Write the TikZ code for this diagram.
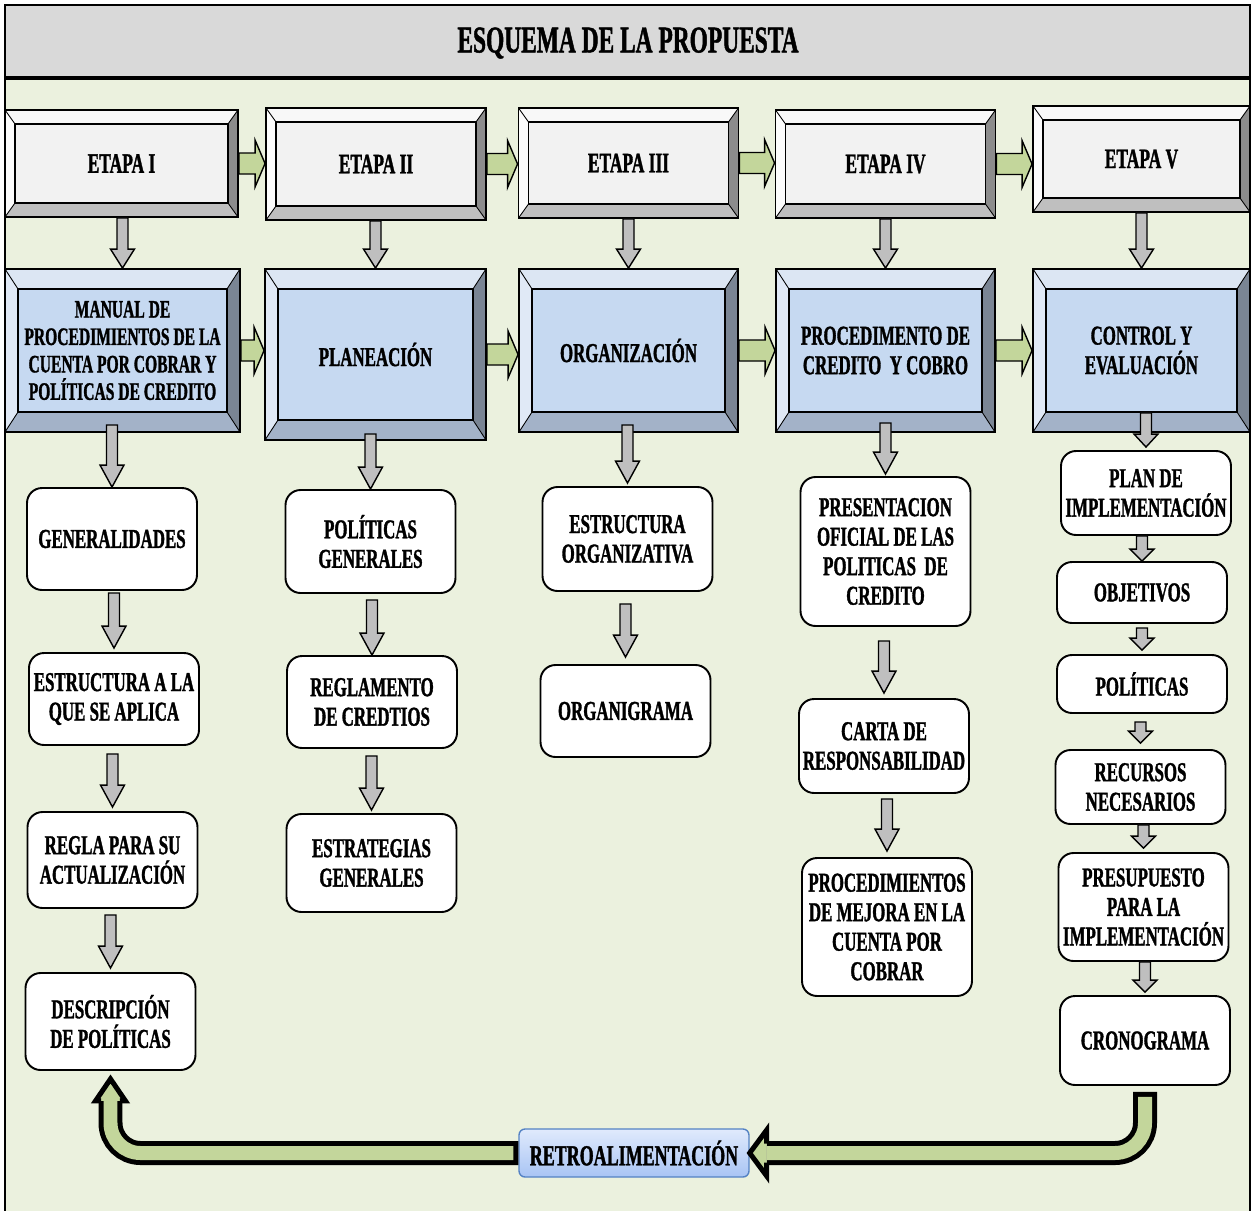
\documentclass[tikz,border=0pt]{standalone}
\usepackage{fontspec}
\newfontfamily\narrowserif[FakeStretch=0.62, BoldFont={Liberation Serif Bold}, BoldFeatures={FakeBold=1.2}]{Liberation Serif}
\usetikzlibrary{calc}

\definecolor{bggreen}{RGB}{235,241,222}
\definecolor{titlegray}{RGB}{217,217,217}
\definecolor{arrgreen}{RGB}{195,214,155}
\definecolor{arrgray}{RGB}{191,191,191}
\definecolor{stageface}{RGB}{242,242,242}
\definecolor{stagetop}{RGB}{248,248,248}
\definecolor{stageleft}{RGB}{252,252,252}
\definecolor{stageright}{RGB}{140,140,140}
\definecolor{stagebottom}{RGB}{191,191,191}
\definecolor{blueface}{RGB}{198,217,241}
\definecolor{bluetop}{RGB}{220,230,243}
\definecolor{blueleft}{RGB}{224,233,246}
\definecolor{blueright}{RGB}{122,133,148}
\definecolor{bluebottom}{RGB}{163,178,200}
\definecolor{retroborder}{RGB}{84,130,196}
\definecolor{retrotop}{RGB}{224,234,252}
\definecolor{retrobot}{RGB}{168,196,244}

% bevelled frame inside a node: top, left, right, bottom, dx, dy
\newcommand{\bevel}[6]{%
  \coordinate (bvA) at (path picture bounding box.north west);
  \coordinate (bvB) at (path picture bounding box.north east);
  \coordinate (bvC) at (path picture bounding box.south east);
  \coordinate (bvD) at (path picture bounding box.south west);
  \coordinate (bva) at ($(bvA)+(#5,-#6)$);
  \coordinate (bvb) at ($(bvB)+(-#5,-#6)$);
  \coordinate (bvc) at ($(bvC)+(-#5,#6)$);
  \coordinate (bvd) at ($(bvD)+(#5,#6)$);
  \fill[#1] (bvA) -- (bvB) -- (bvb) -- (bva) -- cycle;
  \fill[#2] (bvA) -- (bva) -- (bvd) -- (bvD) -- cycle;
  \fill[#3] (bvB) -- (bvC) -- (bvc) -- (bvb) -- cycle;
  \fill[#4] (bvD) -- (bvd) -- (bvc) -- (bvC) -- cycle;
  \draw[line width=0.5pt] (bvA) -- (bva) (bvB) -- (bvb) (bvC) -- (bvc) (bvD) -- (bvd);
  \draw[line width=1.1pt] (bva) rectangle (bvc);
}

% gray block arrow going down, [head length]{from point}{to point}
\newcommand{\garr}[3][0.44cm]{%
  \draw[grayarr] let \p1=(#2), \p2=(#3) in
    (\x2-0.11cm,\y1) -- (\x2+0.11cm,\y1) -- (\x2+0.11cm,\y2+#1) -- (\x2+0.24cm,\y2+#1)
    -- (\x2,\y2) -- (\x2-0.24cm,\y2+#1) -- (\x2-0.11cm,\y2+#1) -- cycle;
}

% green block arrow going right
\newcommand{\harr}[2]{%
  \draw[greenarr] let \p1=(#1.east), \p2=(#2.west) in
    (\x1,\y1+0.21cm) -- (\x2-0.2cm,\y1+0.21cm) -- (\x2-0.2cm,\y1+0.47cm) -- (\x2,\y1)
    -- (\x2-0.2cm,\y1-0.47cm) -- (\x2-0.2cm,\y1-0.21cm) -- (\x1,\y1-0.21cm) -- cycle;
}

\begin{document}
\begin{tikzpicture}[x=0.02cm, y=-0.02cm,
  stage/.style={draw=black, line width=1.1pt, fill=stageface, align=center,
    minimum width=4.4cm, minimum height=2.16cm,
    font=\narrowserif\bfseries\fontsize{16}{17}\selectfont,
    path picture={\bevel{stagetop}{stageleft}{stageright}{stagebottom}{0.2cm}{0.28cm}}},
  phase/.style={draw=black, line width=1.1pt, fill=blueface, align=center,
    minimum width=4.38cm, minimum height=3.26cm,
    font=\narrowserif\bfseries\fontsize{15.5}{16.8}\selectfont,
    path picture={\bevel{bluetop}{blueleft}{blueright}{bluebottom}{0.26cm}{0.4cm}}},
  item/.style={draw=black, line width=1.1pt, fill=white, rounded corners=0.3cm,
    align=center, inner xsep=1pt, minimum width=3.4cm,
    font=\narrowserif\bfseries\fontsize{15.5}{16.8}\selectfont},
  retrobox/.style={draw=retroborder, line width=0.8pt, rounded corners=0.12cm,
    top color=retrotop, bottom color=retrobot, minimum width=4.6cm, minimum height=0.96cm,
    font=\narrowserif\bfseries\fontsize{16.5}{18}\selectfont},
  grayarr/.style={fill=arrgray, draw=black, line width=0.8pt},
  greenarr/.style={fill=arrgreen, draw=black, line width=0.8pt},
  loopout/.style={draw=black, line width=0.48cm, rounded corners=0.6cm},
  loopin/.style={draw=arrgreen, line width=0.28cm, rounded corners=0.6cm},
  loophead/.style={fill=arrgreen, draw=black, line width=0.1cm}
]
  \useasboundingbox (0,0) rectangle (1252,1211);

  % Frame and title
  \fill[white] (0,0) rectangle (1252,1211);
  \filldraw[fill=bggreen, draw=black, line width=0.9pt] (5,5) rectangle (1250,1240);
  \filldraw[fill=titlegray, draw=black, line width=0.9pt] (5,5) rectangle (1250,78);
  \draw[line width=1.8pt] (5,78) -- (1250,78);
  \node[font=\narrowserif\bfseries\fontsize{21.5}{24}\selectfont] (title) at (628,43) {ESQUEMA DE LA PROPUESTA};

  % Stages
  \node[stage, minimum width=4.66cm, minimum height=2.14cm] (s1) at (121.5,163.5) {ETAPA I};
  \node[stage, minimum height=2.24cm] (s2) at (376,164) {ETAPA II};
  \node[stage, minimum height=2.2cm] (s3) at (628.5,163) {ETAPA III};
  \node[stage] (s4) at (885.5,164) {ETAPA IV};
  \node[stage, minimum width=4.34cm, minimum height=2.12cm] (s5) at (1141.5,159) {ETAPA V};

  % Phases
  \node[phase, minimum width=4.7cm, font=\narrowserif\bfseries\fontsize{14.3}{15.6}\selectfont] (p1) at (122.5,350.5)
    {MANUAL DE\\PROCEDIMIENTOS DE LA\\CUENTA POR COBRAR Y\\POLÍTICAS DE CREDITO};
  \node[phase, minimum width=4.42cm, minimum height=3.42cm] (p2) at (375.5,354.5) {PLANEACIÓN};
  \node[phase] (p3) at (628.5,350.5) {ORGANIZACIÓN};
  \node[phase] (p4) at (885.5,350.5) {PROCEDIMENTO DE\\CREDITO~ Y COBRO};
  \node[phase, minimum width=4.34cm] (p5) at (1141.5,350.5) {CONTROL Y\\EVALUACIÓN};

  % Column 1
  \node[item, minimum height=2.04cm] (gen) at (112,539) {GENERALIDADES};
  \node[item, minimum height=1.84cm] (estr) at (114,699) {ESTRUCTURA A LA\\QUE SE APLICA};
  \node[item, minimum height=1.92cm] (regla) at (112.5,860) {REGLA PARA SU\\ACTUALIZACIÓN};
  \node[item, minimum height=1.94cm] (desc) at (110.5,1021.5) {DESCRIPCIÓN\\DE POLÍTICAS};

  % Column 2
  \node[item, minimum height=2.06cm] (polgen) at (370.5,541.5) {POLÍTICAS\\GENERALES};
  \node[item, minimum height=1.84cm] (regl) at (372,702) {REGLAMENTO\\DE CREDTIOS};
  \node[item, minimum height=1.96cm] (estrat) at (371.5,863) {ESTRATEGIAS\\GENERALES};

  % Column 3
  \node[item, minimum height=2.08cm] (estorg) at (627.5,539) {ESTRUCTURA\\ORGANIZATIVA};
  \node[item, minimum height=1.84cm] (organi) at (625.5,711) {ORGANIGRAMA};

  % Column 4
  \node[item, minimum height=2.98cm] (pres) at (885.5,551.5) {PRESENTACION\\OFICIAL DE LAS\\POLITICAS~ DE\\CREDITO};
  \node[item, minimum height=1.88cm] (carta) at (884,746) {CARTA DE\\RESPONSABILIDAD};
  \node[item, minimum height=2.76cm] (mejora) at (887,927) {PROCEDIMIENTOS\\DE MEJORA EN LA\\CUENTA POR\\COBRAR};

  % Column 5
  \node[item, minimum height=1.68cm] (plan) at (1146,493) {PLAN DE\\IMPLEMENTACIÓN};
  \node[item, minimum height=1.22cm] (obj) at (1142,592.5) {OBJETIVOS};
  \node[item, minimum height=1.16cm] (pol) at (1142,684) {POLÍTICAS};
  \node[item, minimum height=1.48cm] (recur) at (1140.5,787) {RECURSOS\\NECESARIOS};
  \node[item, minimum height=2.16cm] (presu) at (1143.5,907) {PRESUPUESTO\\PARA LA\\IMPLEMENTACIÓN};
  \node[item, minimum height=1.78cm] (crono) at (1145,1040.5) {CRONOGRAMA};

  % Feedback
  \node[retrobox] (retro) at (634,1153) {RETROALIMENTACIÓN};

  % Arrows between stages and phases
  \harr{s1}{s2} \harr{s2}{s3} \harr{s3}{s4} \harr{s4}{s5}
  \harr{p1}{p2} \harr{p2}{p3} \harr{p3}{p4} \harr{p4}{p5}
  \garr[0.38cm]{s1.south}{p1.north} \garr[0.38cm]{s2.south}{p2.north}
  \garr[0.38cm]{s3.south}{p3.north} \garr[0.38cm]{s4.south}{p4.north}
  \garr[0.38cm]{s5.south}{p5.north}

  % Arrows down the columns
  \garr{$(p1.south)+(0,-8)$}{gen.north}
  \garr{$(gen.south)+(0,2)$}{$(estr.north)+(0,-4)$}
  \garr{$(estr.south)+(0,8)$}{$(regla.north)+(0,-4)$}
  \garr{$(regla.south)+(0,6)$}{$(desc.north)+(0,-4)$}
  \garr{$(p2.south)+(0,-7)$}{polgen.north}
  \garr{$(polgen.south)+(0,6)$}{regl.north}
  \garr{$(regl.south)+(0,7)$}{$(estrat.north)+(0,-3)$}
  \garr{$(p3.south)+(0,-8)$}{$(estorg.north)+(0,-3)$}
  \garr{$(estorg.south)+(0,12)$}{$(organi.north)+(0,-7)$}
  \garr{$(p4.south)+(0,-10)$}{$(pres.north)+(0,-2)$}
  \garr{$(pres.south)+(0,14)$}{$(carta.north)+(0,-5)$}
  \garr{$(carta.south)+(0,5)$}{$(mejora.north)+(0,-6)$}
  \garr[0.26cm]{$(p5.south)+(0,-20)$}{$(plan.north)+(0,-3)$}
  \garr[0.24cm]{plan.south}{obj.north}
  \garr[0.24cm]{$(obj.south)+(0,4)$}{$(pol.north)+(0,-4)$}
  \garr[0.24cm]{$(pol.south)+(0,8)$}{$(recur.north)+(0,-6)$}
  \garr[0.24cm]{recur.south}{$(presu.north)+(0,-4)$}
  \garr[0.24cm]{presu.south}{$(crono.north)+(0,-3)$}

  % Feedback loop
  \draw[loopout, shorten <=0.12cm, shorten >=0.34cm] (crono.south) |- (retro.east);
  \draw[loopin, shorten <=0.22cm, shorten >=0.34cm] (crono.south) |- (retro.east);
  \filldraw[loophead] let \p1=(retro.east) in
    (\x1+0.34cm,\y1+0.19cm) -- (\x1+0.34cm,\y1+0.46cm) -- (\x1,\y1)
    -- (\x1+0.34cm,\y1-0.46cm) -- (\x1+0.34cm,\y1-0.19cm);
  \draw[loopout, shorten >=0.6cm] (retro.west) -| (desc.south);
  \draw[loopin, shorten <=0.1cm, shorten >=0.6cm] (retro.west) -| (desc.south);
  \filldraw[loophead] let \p1=(desc.south) in
    (\x1-0.19cm,\y1-0.6cm) -- (\x1-0.3cm,\y1-0.6cm) -- (\x1,\y1-0.16cm)
    -- (\x1+0.3cm,\y1-0.6cm) -- (\x1+0.19cm,\y1-0.6cm);
\end{tikzpicture}
\end{document}
